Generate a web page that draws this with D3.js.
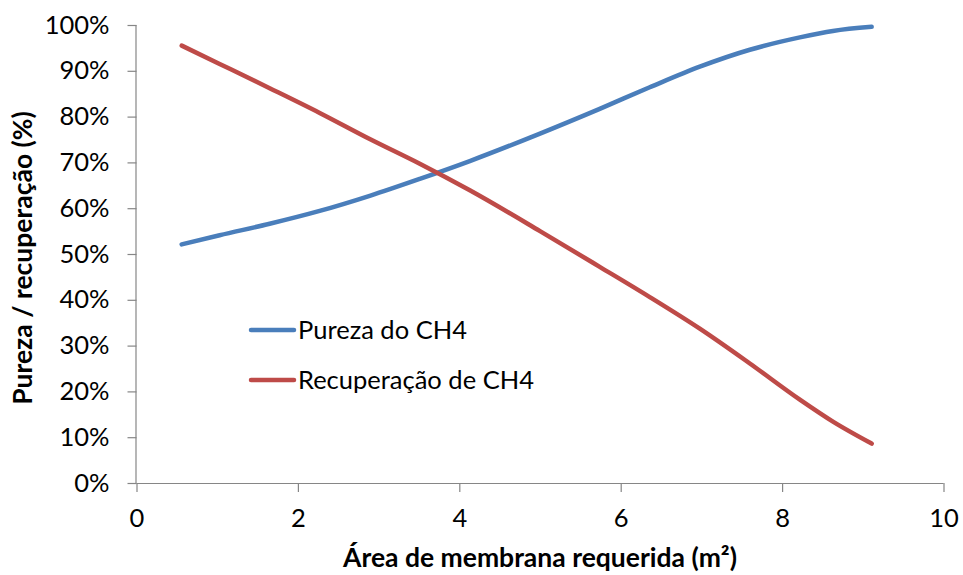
<!DOCTYPE html>
<html>
<head>
<meta charset="utf-8">
<script src="https://cdn.jsdelivr.net/npm/d3@7"></script>
<style>
  html, body { margin: 0; padding: 0; background: #fff; }
  svg { display: block; font-family: Lato, "Open Sans", sans-serif; }
</style>
</head>
<body>
<svg id="chart" width="963" height="575"></svg>
<script>
// ---- data ----
const area = [0.56, 1.03, 1.65, 2.27, 2.89, 3.51, 4.13, 5.0, 5.74, 6.36, 6.98, 7.60, 8.22, 8.63, 9.11];
const pureza = [52.1, 54.1, 56.6, 59.4, 62.7, 66.4, 70.3, 76.3, 81.7, 86.4, 90.9, 94.6, 97.3, 98.7, 99.6];
const recuperacao = [95.5, 91.5, 86.2, 80.8, 75.1, 69.7, 63.9, 55.0, 47.2, 40.6, 33.7, 26.1, 18.2, 13.4, 8.6];
const seriesNames = ["Pureza do CH4", "Recuperação de CH4"];
const xTicks = [0, 2, 4, 6, 8, 10];
const yTicks = [0, 10, 20, 30, 40, 50, 60, 70, 80, 90, 100];
const xTitle = "Área de membrana requerida (m²)";
const yTitle = "Pureza / recuperação (%)";

// ---- layout ----
const colors = ["#4A7EBB", "#BE4B48"];
const plotL = 136.5, plotR = 943.5, plotT = 25, plotB = 483;

const svg = d3.select("#chart");
const x = d3.scaleLinear().domain([0, 10]).range([plotL, plotR]);
const y = d3.scaleLinear().domain([0, 100]).range([plotB, plotT]);

const axisColor = "#868686";
const tickFont = 25.5;
const titleFont = 26.5;

// y axis
const gy = svg.append("g").attr("transform", `translate(${plotL},0)`)
  .call(d3.axisLeft(y).tickValues(yTicks).tickSize(9).tickPadding(18).tickFormat(d => d + "%"));
// x axis
const gx = svg.append("g").attr("transform", `translate(0,${plotB})`)
  .call(d3.axisBottom(x).tickValues(xTicks).tickSize(9).tickPadding(17).tickFormat(d3.format("d")));

[gx, gy].forEach(g => {
  g.select(".domain").attr("stroke", axisColor).attr("stroke-width", 1.2);
  g.selectAll(".tick line").attr("stroke", axisColor).attr("stroke-width", 1.2);
  g.selectAll(".tick text").attr("fill", "#000").attr("font-size", tickFont)
    .attr("font-family", "Lato, 'Open Sans', sans-serif");
});
gx.select(".domain").attr("d", `M${plotL},0.5H${plotR}`);
gy.select(".domain").attr("d", `M-0.5,${plotT}V${plotB}`);

// lines
const rows = [pureza, recuperacao];
const line = d3.line().curve(d3.curveMonotoneX)
  .x(d => x(d[0])).y(d => y(d[1]));
rows.forEach((vals, i) => {
  svg.append("path")
    .datum(area.map((a, k) => [a, vals[k]]))
    .attr("d", line)
    .attr("fill", "none")
    .attr("stroke", colors[i])
    .attr("stroke-width", 4.5)
    .attr("stroke-linecap", "round")
    .attr("stroke-linejoin", "round");
});

// legend
const leg = svg.append("g").attr("transform", "translate(251,330)");
seriesNames.forEach((name, i) => {
  const g = leg.append("g").attr("transform", `translate(0,${i * 50})`);
  g.append("line").attr("x1", 0).attr("x2", 43).attr("y1", 0).attr("y2", 0)
    .attr("stroke", colors[i]).attr("stroke-width", 4.5).attr("stroke-linecap", "round");
  g.append("text").attr("x", 47).attr("y", 9).attr("font-size", tickFont).attr("fill", "#000")
    .text(name);
});

// titles
svg.append("text")
  .attr("x", (plotL + plotR) / 2).attr("y", 567)
  .attr("text-anchor", "middle").attr("font-weight", "bold").attr("font-size", titleFont).attr("fill", "#000")
  .text(xTitle);
svg.append("text")
  .attr("transform", `translate(32,258) rotate(-90)`)
  .attr("text-anchor", "middle").attr("font-weight", "bold").attr("font-size", titleFont).attr("fill", "#000")
  .text(yTitle);
</script>
</body>
</html>
